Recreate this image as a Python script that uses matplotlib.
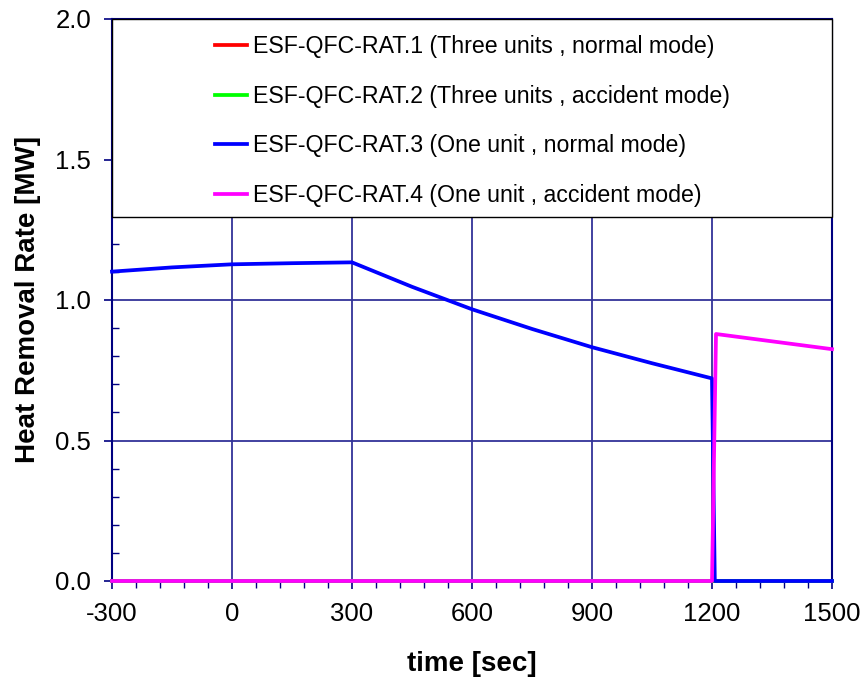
import matplotlib
matplotlib.use("Agg")
import matplotlib.pyplot as plt
from matplotlib.patches import Rectangle
from matplotlib.ticker import MultipleLocator

plt.rcParams['font.family'] = ['Liberation Sans', 'DejaVu Sans']

# Heat removal rate of the ESF-QFC-RAT cases [MW] versus time [sec]
t_rat1 = [-300, 1500]
q_rat1 = [0.0, 0.0]

t_rat2 = [-300, 1500]
q_rat2 = [0.0, 0.0]

t_rat3 = [-300, -150, 0, 150, 300, 450, 600, 750, 900, 1050, 1200, 1207, 1500]
q_rat3 = [1.101, 1.116, 1.127, 1.131, 1.134, 1.047, 0.967, 0.897, 0.832, 0.775, 0.721, 0.0, 0.0]

t_rat4 = [-300, 1200, 1210, 1500]
q_rat4 = [0.0, 0.0, 0.879, 0.825]

labels = [
    "ESF-QFC-RAT.1 (Three units , normal mode)",
    "ESF-QFC-RAT.2 (Three units , accident mode)",
    "ESF-QFC-RAT.3 (One unit , normal mode)",
    "ESF-QFC-RAT.4 (One unit , accident mode)",
]
colors = ["#ff0000", "#00ff00", "#0000ff", "#ff00ff"]

x_ticks = [-300, 0, 300, 600, 900, 1200, 1500]
y_ticks = [0.0, 0.5, 1.0, 1.5, 2.0]

navy = "#000080"
grid_col = "#333399"

fig = plt.figure(figsize=(8.67, 6.88), dpi=100)
ax = fig.add_axes([112 / 867, 1 - 581 / 688, 720 / 867, 562 / 688])

series = [(t_rat1, q_rat1), (t_rat2, q_rat2), (t_rat3, q_rat3), (t_rat4, q_rat4)]
handles = []
for (t, q), lab, c in zip(series, labels, colors):
    h, = ax.plot(t, q, color=c, lw=2.7, label=lab, zorder=3, clip_on=False)
    handles.append(h)

ax.set_xlim(-300, 1500)
ax.set_ylim(0, 2.0)
ax.set_xticks(x_ticks)
ax.set_yticks(y_ticks)
ax.set_xticklabels([str(v) for v in x_ticks])
ax.set_yticklabels([f"{v:.1f}" for v in y_ticks])
ax.xaxis.set_minor_locator(MultipleLocator(60))
ax.yaxis.set_minor_locator(MultipleLocator(0.1))

ax.grid(True, which='major', color=grid_col, lw=1.3, zorder=1)
ax.set_axisbelow(True)

for s in ax.spines.values():
    s.set_color(navy)
    s.set_linewidth(1.5)

ax.tick_params(axis='x', which='major', direction='out', length=6, width=1.2,
               color=navy, pad=9, labelsize=18.5)
ax.tick_params(axis='x', which='minor', direction='out', length=5, width=1,
               color=navy)
ax.tick_params(axis='y', which='major', direction='out', length=6, width=1.2,
               color=navy, pad=9, labelsize=18.5)
ax.tick_params(axis='y', which='minor', direction='in', length=5, width=1,
               color=navy)

ax.set_xlabel("time [sec]", fontsize=20, fontweight='bold', labelpad=18)
ax.set_ylabel("Heat Removal Rate [MW]", fontsize=20, fontweight='bold', labelpad=10)

# legend panel spanning the upper part of the plot
y0 = (581 - 217) / 562
box = Rectangle((0, y0), 1.0, 1 - y0, transform=ax.transAxes, facecolor='white',
                edgecolor='black', lw=1.0, zorder=4, clip_on=False)
ax.add_patch(box)

leg = ax.legend(handles=handles, loc='upper left',
                bbox_to_anchor=((215 - 112) / 720, (581 - 35) / 562),
                frameon=False, fontsize=16.7, borderpad=0, borderaxespad=0,
                handlelength=1.4, handletextpad=0.25, labelspacing=1.15)
leg.set_zorder(5)

fig.savefig("out.png", dpi=100)
